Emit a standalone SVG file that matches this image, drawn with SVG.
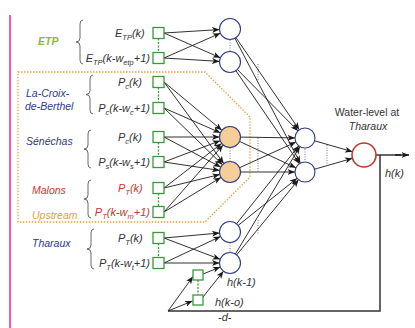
<svg xmlns="http://www.w3.org/2000/svg" width="415" height="328" viewBox="0 0 415 328">
<defs>
<marker id="ah" markerUnits="userSpaceOnUse" markerWidth="8" markerHeight="6" refX="7.5" refY="3" orient="auto">
<path d="M0,0 L7.5,3 L0,6 L2,3 Z" fill="#1a1a1a"/>
</marker>
<linearGradient id="pinkfade" x1="0" y1="0" x2="1" y2="0">
<stop offset="0" stop-color="#f07ab9" stop-opacity="1"/>
<stop offset="1" stop-color="#f7b8da" stop-opacity="0"/>
</linearGradient>
<style>
text{font-family:"Liberation Sans",Arial,sans-serif}
.sq{fill:#fff;stroke:#3a9a3a;stroke-width:1.3}
.hn{fill:#fff;stroke:#2e3a87;stroke-width:1.1}
.on{fill:#f6cf98;stroke:#2e3a87;stroke-width:1.1}
.out{fill:#fff;stroke:#c0392b;stroke-width:1.6}
.cn{stroke:#1a1a1a;stroke-width:0.9;fill:none;marker-end:url(#ah)}
.ln{stroke:#333;stroke-width:1.5;fill:none}
.gd{stroke:#3a9a3a;stroke-width:1.3;stroke-dasharray:2 1.5}
.dt{stroke:#555;stroke-width:0.8;stroke-dasharray:1 1.5}
.br{stroke:#444;stroke-width:0.8;fill:none}
.f{font-size:11px;font-style:italic;fill:#333}
.fr{font-size:11px;font-style:italic;fill:#c0392b}
.lab{font-size:10.5px;font-style:italic}
.s{font-size:7.5px}
</style>
</defs>
<rect width="415" height="328" fill="#fff"/>
<line x1="10" y1="15" x2="10" y2="328" stroke="#ee5fae" stroke-width="2"/>
<line x1="10" y1="15" x2="170" y2="15" stroke="url(#pinkfade)" stroke-width="2"/>
<polygon points="18,72 205,72 250,117 250,177 205,222 18,222" fill="none" stroke="#e8a33d" stroke-width="1.3" stroke-dasharray="1.5 1.5"/>

<g id="group-labels">
<text class="lab" x="38" y="45" fill="#8cb83a" font-weight="bold">ETP</text>
<text class="lab" x="26" y="97" fill="#2e3a87">La-Croix-</text>
<text class="lab" x="25" y="110" fill="#2e3a87">de-Berthel</text>
<text class="lab" x="26" y="145" fill="#2e3a87">Sénéchas</text>
<text class="lab" x="32" y="194" fill="#c0392b">Malons</text>
<text class="lab" x="32" y="219" fill="#e3a33a">Upstream</text>
<text class="lab" x="32" y="247" fill="#2e3a87">Tharaux</text>
</g>

<g id="braces">
<path class="br" d="M83,20 Q80,20 80,24 L80,38 Q80,42 76,42 Q80,42 80,46 L80,60 Q80,64 83,64"/>
<path class="br" d="M93,75 Q90,75 90,79 L90,90.5 Q90,94.5 86,94.5 Q90,94.5 90,98.5 L90,110 Q90,114 93,114"/>
<path class="br" d="M91,130 Q88,130 88,134 L88,145 Q88,149 84,149 Q88,149 88,153 L88,164 Q88,168 91,168"/>
<path class="br" d="M91,180 Q88,180 88,184 L88,195 Q88,199 84,199 Q88,199 88,203 L88,214 Q88,218 91,218"/>
<path class="br" d="M94,229 Q91,229 91,233 L91,245 Q91,249 87,249 Q91,249 91,253 L91,265 Q91,269 94,269"/>
</g>

<g id="input-labels">
<text class="f" x="115" y="37">E<tspan class="s" dy="2.5">TP</tspan><tspan dy="-2.5">(k)</tspan></text>
<text class="f" x="150" y="62" text-anchor="end">E<tspan class="s" dy="2.5">TP</tspan><tspan dy="-2.5">(k-w</tspan><tspan class="s" dy="2.5">etp</tspan><tspan dy="-2.5">+1)</tspan></text>
<text class="f" x="118" y="86">P<tspan class="s" dy="2.5">c</tspan><tspan dy="-2.5">(k)</tspan></text>
<text class="f" x="150" y="112" text-anchor="end">P<tspan class="s" dy="2.5">c</tspan><tspan dy="-2.5">(k-w</tspan><tspan class="s" dy="2.5">c</tspan><tspan dy="-2.5">+1)</tspan></text>
<text class="f" x="118" y="141">P<tspan class="s" dy="2.5">c</tspan><tspan dy="-2.5">(k)</tspan></text>
<text class="f" x="150" y="166" text-anchor="end">P<tspan class="s" dy="2.5">s</tspan><tspan dy="-2.5">(k-w</tspan><tspan class="s" dy="2.5">s</tspan><tspan dy="-2.5">+1)</tspan></text>
<text class="fr" x="118" y="192">P<tspan class="s" dy="2.5">T</tspan><tspan dy="-2.5">(k)</tspan></text>
<text class="fr" x="150" y="216" text-anchor="end">P<tspan class="s" dy="2.5">T</tspan><tspan dy="-2.5">(k-w</tspan><tspan class="s" dy="2.5">m</tspan><tspan dy="-2.5">+1)</tspan></text>
<text class="f" x="118" y="242">P<tspan class="s" dy="2.5">T</tspan><tspan dy="-2.5">(k)</tspan></text>
<text class="f" x="150" y="267" text-anchor="end">P<tspan class="s" dy="2.5">T</tspan><tspan dy="-2.5">(k-w</tspan><tspan class="s" dy="2.5">t</tspan><tspan dy="-2.5">+1)</tspan></text>
</g>

<g id="connectors">
<line class="gd" x1="158.5" y1="38.5" x2="158.5" y2="52.5"/>
<line class="gd" x1="158.5" y1="87.5" x2="158.5" y2="102.5"/>
<line class="gd" x1="158.5" y1="142.5" x2="158.5" y2="156.5"/>
<line class="gd" x1="158.5" y1="193.5" x2="158.5" y2="206.5"/>
<line class="gd" x1="158.5" y1="243.5" x2="158.5" y2="257.5"/>
<line class="gd" x1="198" y1="280" x2="198" y2="295"/>

<line class="cn" x1="164" y1="33" x2="219.5" y2="29.6"/>
<line class="cn" x1="164" y1="33" x2="220.4" y2="57.8"/>
<line class="cn" x1="164" y1="58" x2="220.4" y2="33.2"/>
<line class="cn" x1="164" y1="58" x2="219.5" y2="61.4"/>

<line class="cn" x1="164" y1="82" x2="221.9" y2="130.3"/>
<line class="cn" x1="164" y1="82" x2="223.8" y2="163.5"/>
<line class="cn" x1="164" y1="108" x2="220.4" y2="132.8"/>
<line class="cn" x1="164" y1="108" x2="222.5" y2="164.7"/>
<line class="cn" x1="164" y1="137" x2="219.5" y2="137"/>
<line class="cn" x1="164" y1="137" x2="220.7" y2="167.1"/>
<line class="cn" x1="164" y1="162" x2="220.2" y2="140.7"/>
<line class="cn" x1="164" y1="162" x2="219.6" y2="170.4"/>
<line class="cn" x1="164" y1="188" x2="221.7" y2="143.4"/>
<line class="cn" x1="164" y1="188" x2="219.8" y2="174.5"/>
<line class="cn" x1="164" y1="212" x2="223.1" y2="144.9"/>
<line class="cn" x1="164" y1="212" x2="221.0" y2="177.4"/>

<line class="cn" x1="164" y1="238" x2="219.5" y2="233"/>
<line class="cn" x1="164" y1="238" x2="220.2" y2="259.3"/>
<line class="cn" x1="164" y1="263" x2="220.5" y2="236.5"/>
<line class="cn" x1="164" y1="263" x2="219.5" y2="263"/>
<line class="cn" x1="203" y1="274" x2="220.3" y2="267"/>
<line class="cn" x1="203" y1="297" x2="223.5" y2="271.2"/>

<line class="cn" x1="236" y1="37.7" x2="299.3" y2="129.8"/>
<line class="cn" x1="234.9" y1="38.3" x2="300.4" y2="163.2"/>
<line class="cn" x1="237.4" y1="69.5" x2="298" y2="130.9"/>
<line class="cn" x1="235.9" y1="70.7" x2="299.4" y2="163.7"/>
<line class="cn" x1="240.5" y1="137.1" x2="295" y2="137.9"/>
<line class="cn" x1="239.5" y1="141.4" x2="295.9" y2="167.8"/>
<line class="cn" x1="239.6" y1="167.7" x2="295.9" y2="142.1"/>
<line class="cn" x1="240.5" y1="172" x2="295" y2="172"/>
<line class="cn" x1="236.5" y1="223.8" x2="298.8" y2="145.8"/>
<line class="cn" x1="238.2" y1="225.4" x2="297.2" y2="178.2"/>
<line class="cn" x1="235.4" y1="254" x2="299.9" y2="146.6"/>
<line class="cn" x1="236.7" y1="254.9" x2="298.6" y2="179.7"/>

<line class="cn" x1="314.6" y1="140.8" x2="352.5" y2="151.7"/>
<line class="cn" x1="314.6" y1="169.2" x2="352.5" y2="158.3"/>

<line class="ln" x1="376" y1="155" x2="401" y2="155"/>
<line class="cn" x1="395" y1="155" x2="409" y2="155" style="stroke-width:1.5"/>
<polyline class="ln" points="380,155 380,311 168,311"/>
<line class="cn" x1="168" y1="311" x2="192.5" y2="301"/>
<line class="cn" x1="168" y1="311" x2="193" y2="276.5"/>

<line class="dt" x1="230" y1="40" x2="230" y2="51"/>
<line class="dt" x1="230" y1="148" x2="230" y2="161"/>
<line class="dt" x1="230" y1="243" x2="230" y2="252"/>
<line class="dt" x1="305" y1="149" x2="305" y2="161"/>
<line class="dt" x1="258" y1="64" x2="258" y2="80"/>
<line class="dt" x1="258" y1="138" x2="258" y2="173"/>
<line class="dt" x1="258" y1="220" x2="258" y2="235"/>
<line class="dt" x1="327" y1="145" x2="327" y2="167"/>
</g>

<g id="in-etp-1"><rect class="sq" x="153" y="27.5" width="11" height="11"/></g>
<g id="in-etp-2"><rect class="sq" x="153" y="52.5" width="11" height="11"/></g>
<g id="in-lcb-1"><rect class="sq" x="153" y="76.5" width="11" height="11"/></g>
<g id="in-lcb-2"><rect class="sq" x="153" y="102.5" width="11" height="11"/></g>
<g id="in-sen-1"><rect class="sq" x="153" y="131.5" width="11" height="11"/></g>
<g id="in-sen-2"><rect class="sq" x="153" y="156.5" width="11" height="11"/></g>
<g id="in-mal-1"><rect class="sq" x="153" y="182.5" width="11" height="11"/></g>
<g id="in-mal-2"><rect class="sq" x="153" y="206.5" width="11" height="11"/></g>
<g id="in-tha-1"><rect class="sq" x="153" y="232.5" width="11" height="11"/></g>
<g id="in-tha-2"><rect class="sq" x="153" y="257.5" width="11" height="11"/></g>
<g id="fb-1"><rect class="sq" x="193" y="270" width="10" height="10"/><text class="f" x="227" y="286">h(k-1)</text></g>
<g id="fb-2"><rect class="sq" x="193" y="295" width="10" height="10"/><text class="f" x="215" y="306">h(k-o)</text></g>

<g id="h-etp-1"><circle class="hn" cx="230" cy="29" r="10.5"/></g>
<g id="h-etp-2"><circle class="hn" cx="230" cy="62" r="10.5"/></g>
<g id="h-up-1"><circle class="on" cx="230" cy="137" r="10.5"/></g>
<g id="h-up-2"><circle class="on" cx="230" cy="172" r="10.5"/></g>
<g id="h-tha-1"><circle class="hn" cx="230" cy="232" r="10.5"/></g>
<g id="h-tha-2"><circle class="hn" cx="230" cy="263" r="10.5"/></g>
<g id="h2-1"><circle class="hn" cx="305" cy="138" r="10"/></g>
<g id="h2-2"><circle class="hn" cx="305" cy="172" r="10"/></g>
<g id="output"><circle class="out" cx="364" cy="155" r="12"/>
<text x="367" y="116" font-size="10.5" fill="#333" text-anchor="middle">Water-level at</text>
<text x="368" y="130" font-size="10.5" fill="#333" font-style="italic" text-anchor="middle">Tharaux</text>
<text class="f" x="385" y="177">h(k)</text>
</g>
<text class="f" x="218" y="321">-d-</text>
</svg>
